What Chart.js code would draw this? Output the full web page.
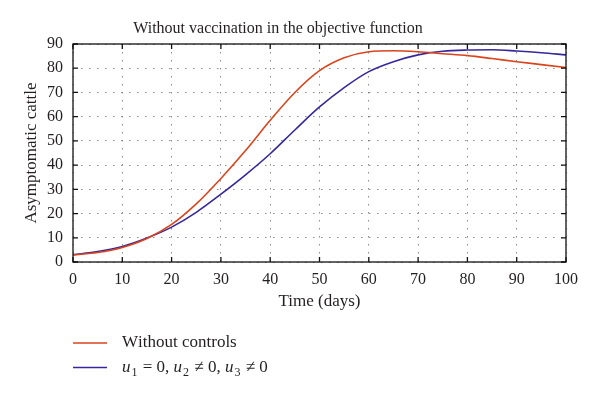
<!DOCTYPE html>
<html>
<head>
  <meta charset="utf-8">
  <script src="https://cdn.jsdelivr.net/npm/chart.js"></script>
  <style>
    html, body { margin: 0; padding: 0; background: #fff; }
  </style>
</head>
<body>
  <canvas id="myChart" width="600" height="399"></canvas>

  <script>
    // Дані
    const days = [0, 5, 10, 15, 20, 25, 30, 35, 40, 45, 50, 55, 60, 65, 70, 75, 80, 85, 90, 95, 100];
    const withoutControls = [2.9, 3.9, 6.0, 9.7, 15.5, 24, 34.5, 46, 58.5, 70, 79, 84.3, 86.8, 87.2, 86.8, 86, 85.2, 84, 82.7, 81.5, 80.3];
    const withControls = [3.0, 4.3, 6.4, 9.9, 14.4, 20.5, 28, 36, 44.7, 54.5, 64, 72, 78.6, 82.7, 85.5, 87, 87.5, 87.6, 87.1, 86.4, 85.5];
    const xTicks = [0, 10, 20, 30, 40, 50, 60, 70, 80, 90, 100];
    const yTicks = [0, 10, 20, 30, 40, 50, 60, 70, 80, 90];
    const seriesLabels = ['Without controls', 'u₁ = 0, u₂ ≠ 0, u₃ ≠ 0'];
    const seriesColors = ['#d9441c', '#36279a'];
    const chartTitle = 'Without vaccination in the objective function';
    const xTitle = 'Time (days)';
    const yTitle = 'Asymptomatic cattle';

    const serif = '"Liberation Serif", "DejaVu Serif", serif';
    const textColor = '#231f20';

    // Текст з курсивом u та нижніми індексами
    function drawRich(ctx, text, x, y, size) {
        const subs = '₀₁₂₃₄₅₆₇₈₉';
        const isSub = ch => ch !== undefined && subs.indexOf(ch) >= 0;
        const chars = Array.from(text);
        chars.forEach((ch, i) => {
            if (isSub(ch)) {
                const digit = String(subs.indexOf(ch));
                ctx.font = `${Math.round(size * 0.68)}px ${serif}`;
                ctx.fillText(digit, x, y + size * 0.3);
                x += ctx.measureText(digit).width + 1;
            } else {
                const italic = isSub(chars[i + 1]);
                ctx.font = `${italic ? 'italic ' : ''}${size}px ${serif}`;
                ctx.fillText(ch, x, y);
                x += ctx.measureText(ch).width + (italic ? 1 : 0);
            }
        });
    }

    // Рамка, внутрішні поділки, заголовок та легенда
    const frameAndLegend = {
        id: 'frameAndLegend',
        afterDraw(chart) {
            const { ctx, chartArea: a, scales: { x, y } } = chart;
            ctx.save();
            ctx.strokeStyle = '#111';
            ctx.lineWidth = 1.3;
            ctx.strokeRect(a.left, a.top, a.right - a.left, a.bottom - a.top);
            ctx.beginPath();
            x.ticks.forEach(t => {
                const px = x.getPixelForValue(t.value);
                ctx.moveTo(px, a.bottom); ctx.lineTo(px, a.bottom - 5);
                ctx.moveTo(px, a.top); ctx.lineTo(px, a.top + 5);
            });
            y.ticks.forEach(t => {
                const py = y.getPixelForValue(t.value);
                ctx.moveTo(a.left, py); ctx.lineTo(a.left + 5, py);
                ctx.moveTo(a.right, py); ctx.lineTo(a.right - 5, py);
            });
            ctx.stroke();

            ctx.fillStyle = textColor;
            ctx.textBaseline = 'middle';
            ctx.textAlign = 'center';
            ctx.font = `16px ${serif}`;
            ctx.fillText(chartTitle, 278, 29);

            ctx.textAlign = 'left';
            chart.data.datasets.forEach((ds, i) => {
                const ly = 343 + i * 24.5;
                ctx.strokeStyle = ds.borderColor;
                ctx.lineWidth = 1.5;
                ctx.beginPath();
                ctx.moveTo(a.left, ly);
                ctx.lineTo(a.left + 34, ly);
                ctx.stroke();
                ctx.fillStyle = textColor;
                drawRich(ctx, ds.label, a.left + 49, ly, 17);
            });
            ctx.restore();
        }
    };

    const makeSeries = values => days.map((d, i) => ({ x: d, y: values[i] }));

    const ctx = document.getElementById('myChart').getContext('2d');
    new Chart(ctx, {
        type: 'line',
        data: {
            datasets: [withoutControls, withControls].map((vals, i) => ({
                label: seriesLabels[i],
                data: makeSeries(vals),
                borderColor: seriesColors[i],
                backgroundColor: seriesColors[i],
                borderWidth: 1.6,
                pointRadius: 0,
                cubicInterpolationMode: 'monotone',
                fill: false
            }))
        },
        options: {
            responsive: false,
            animation: false,
            layout: { padding: { top: 44, right: 34, bottom: 87, left: 0 } },
            plugins: {
                legend: { display: false },
                title: { display: false },
                tooltip: { enabled: false }
            },
            scales: {
                x: {
                    type: 'linear',
                    min: 0,
                    max: 100,
                    afterBuildTicks: scale => { scale.ticks = xTicks.map(v => ({ value: v })); },
                    afterFit: scale => { scale.height = 50; },
                    grid: { color: '#8a8a8a', lineWidth: 1, drawTicks: false },
                    border: { display: false, dash: [1.5, 6.5] },
                    ticks: { color: textColor, font: { family: serif, size: 16 }, padding: 8, maxRotation: 0 },
                    title: { display: true, text: xTitle, color: textColor, font: { family: serif, size: 17 }, padding: { top: 0, bottom: 0 } }
                },
                y: {
                    min: 0,
                    max: 90,
                    afterBuildTicks: scale => { scale.ticks = yTicks.map(v => ({ value: v })); },
                    afterFit: scale => { scale.width = 73; },
                    grid: { color: '#8a8a8a', lineWidth: 1, drawTicks: false },
                    border: { display: false, dash: [1.5, 6.5] },
                    ticks: { color: textColor, font: { family: serif, size: 16 }, padding: 10 },
                    title: { display: true, text: yTitle, color: textColor, font: { family: serif, size: 17 }, padding: { top: 21, bottom: 0 } }
                }
            }
        },
        plugins: [frameAndLegend]
    });
  </script>
</body>
</html>
